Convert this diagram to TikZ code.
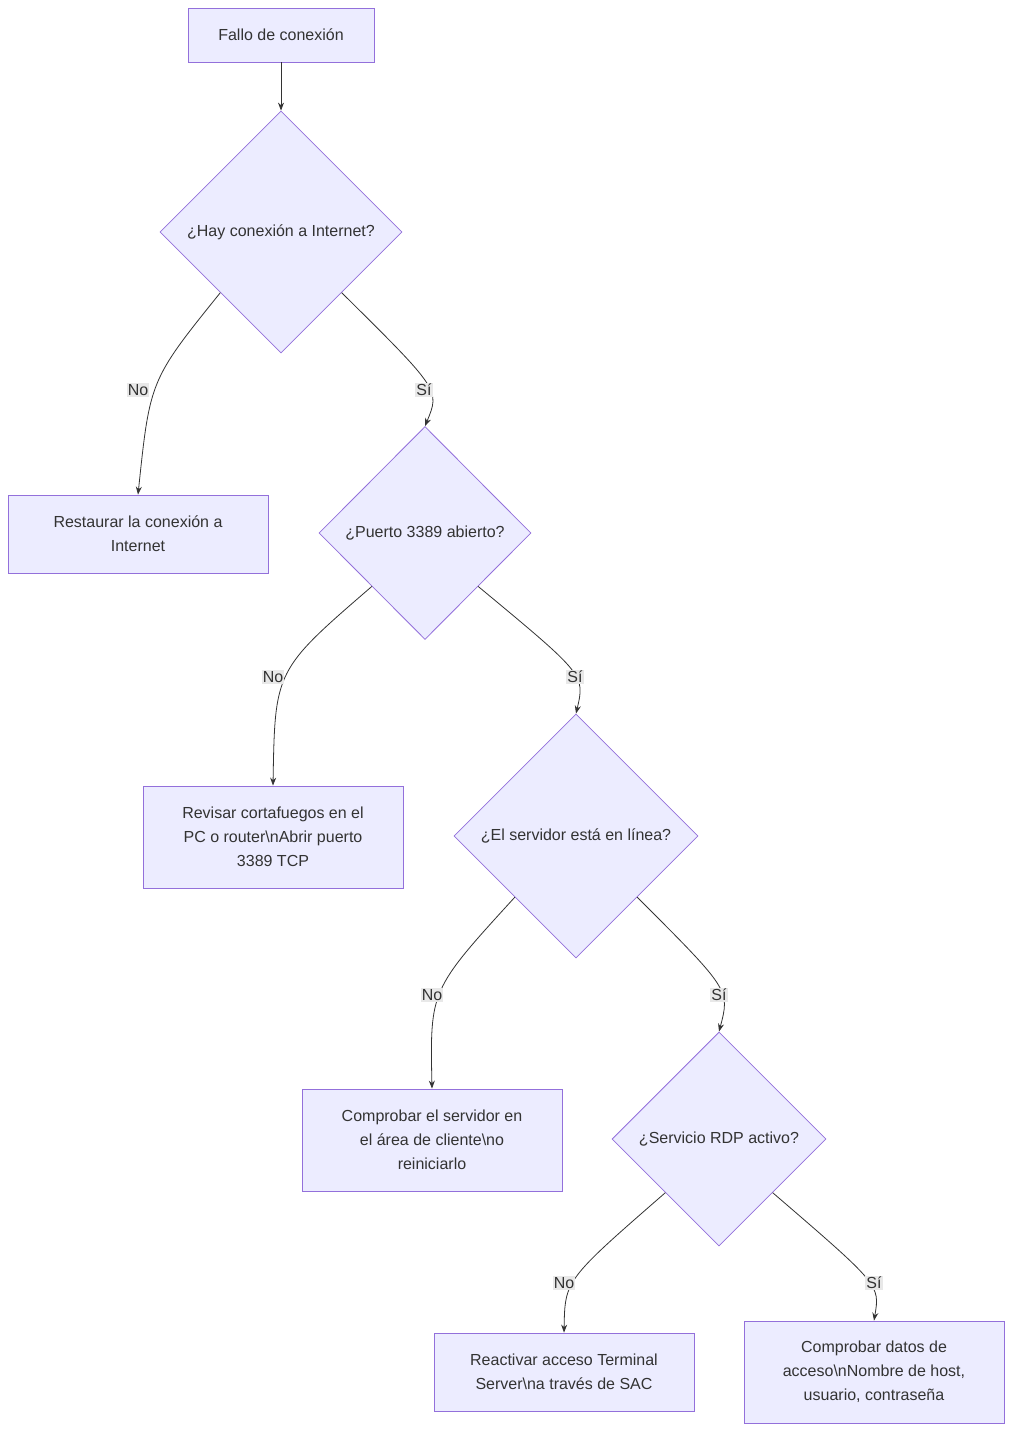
\documentclass[tikz,border=0pt]{standalone}
\usepackage{fontspec}
\setmainfont{Liberation Sans}
\usetikzlibrary{shapes.geometric,arrows.meta}
\definecolor{nfill}{HTML}{ECECFF}
\definecolor{ndraw}{HTML}{9370DB}
\definecolor{ntext}{HTML}{333333}
\definecolor{lbg}{HTML}{E8E8E8}
\begin{document}
\begin{tikzpicture}[x=1pt,y=-1pt,
  every node/.style={font=\fontsize{16}{24}\selectfont,text=ntext},
  box/.style={draw=ndraw,fill=nfill,rectangle,inner sep=0,align=center,line width=0.8pt},
  dia/.style={draw=ndraw,fill=nfill,diamond,inner sep=0,line width=0.8pt},
  lab/.style={fill=lbg,inner sep=1pt},
  edge/.style={draw=ntext,line width=0.8pt,-{Stealth[length=8pt,width=6pt]}}]
\useasboundingbox (0,0) rectangle (1012,1431);
\node[box,minimum width=186,minimum height=54] (a) at (281,35) {Fallo de conexión};
\node[dia,minimum width=242,minimum height=242] (d1) at (281,232) {¿Hay conexión a Internet?};
\node[box,minimum width=260,minimum height=78] (r1) at (138,534) {Restaurar la conexión a\\Internet};
\node[dia,minimum width=212,minimum height=213] (d2) at (425,533) {¿Puerto 3389 abierto?};
\node[box,minimum width=260,minimum height=102] (r2) at (273,837) {Revisar cortafuegos en el\\PC o router\textbackslash nAbrir puerto\\3389 TCP};
\node[dia,minimum width=244,minimum height=244] (d3) at (576,836) {¿El servidor está en línea?};
\node[box,minimum width=260,minimum height=102] (r3) at (432,1140) {Comprobar el servidor en\\el área de cliente\textbackslash no\\reiniciarlo};
\node[dia,minimum width=214,minimum height=214] (d4) at (719,1139) {¿Servicio RDP activo?};
\node[box,minimum width=260,minimum height=78] (r4) at (564,1372) {Reactivar acceso Terminal\\Server\textbackslash na través de SAC};
\node[box,minimum width=260,minimum height=102] (r5) at (874,1372) {Comprobar datos de\\acceso\textbackslash nNombre de host,\\usuario, contraseña};
\draw[edge] (a) -- (d1);
\draw[edge] (d1.south west) .. controls (150,380) .. (r1.north);
\draw[edge] (d1.south east) .. controls (440,390) .. (d2.north);
\draw[edge] (d2.south west) .. controls (275,670) .. (r2.north);
\draw[edge] (d2.south east) .. controls (585,675) .. (d3.north);
\draw[edge] (d3.south west) .. controls (430,990) .. (r3.north);
\draw[edge] (d3.south east) .. controls (730,990) .. (d4.north);
\draw[edge] (d4.south west) .. controls (565,1280) .. (r4.north);
\draw[edge] (d4.south east) .. controls (880,1285) .. (r5.north);
\node[lab] (l1) at (138,390) {No};
\node[lab] (l2) at (424,390) {Sí};
\node[lab] (l3) at (273,677) {No};
\node[lab] (l4) at (575,677) {Sí};
\node[lab] (l5) at (432,995) {No};
\node[lab] (l6) at (719,995) {Sí};
\node[lab] (l7) at (564,1283) {No};
\node[lab] (l8) at (874,1283) {Sí};
\end{tikzpicture}
\end{document}
